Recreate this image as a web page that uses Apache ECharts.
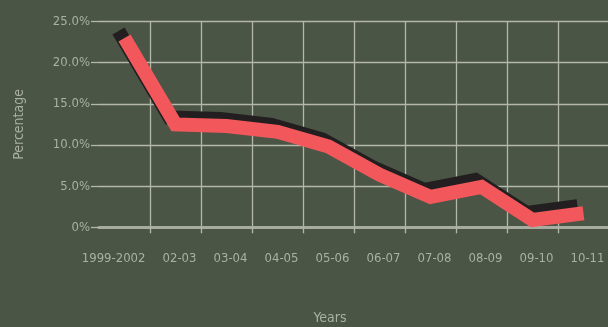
<!DOCTYPE html>
<html>
<head>
<meta charset="utf-8">
<style>
  html, body { margin: 0; padding: 0; background: #4a5545; }
  #chart { width: 608px; height: 327px; }
</style>
<script src="https://cdn.jsdelivr.net/npm/echarts@6/dist/echarts.min.js"></script>
</head>
<body>
<div id="chart"></div>
<script>
// Academic years on the horizontal axis
const years = ['1999-2002', '02-03', '03-04', '04-05', '05-06', '06-07', '07-08', '08-09', '09-10', '10-11'];
// Percentage for each period
const percentages = [23.0, 12.5, 12.3, 11.6, 9.8, 6.4, 3.7, 4.9, 0.9, 1.7];
// Vertical axis tick values and their labels
const yTicks = [0, 5, 10, 15, 20, 25];
const yTickLabels = ['0%', '5.0%', '10.0%', '15.0%', '20.0%', '25.0%'];

const FONT = "'DejaVu Sans Condensed', 'Liberation Sans', sans-serif";
const TEXT = '#aab0a4';
const GRID = '#b3b8ab';

const chart = echarts.init(document.getElementById('chart'), null, { renderer: 'canvas' });

chart.setOption({
  backgroundColor: '#4a5545',
  animation: false,
  grid: {
    left: 99, top: 21.5, width: 510, height: 205.8,
    containLabel: false, outerBoundsMode: 'none'
  },
  xAxis: {
    type: 'category',
    data: years,
    boundaryGap: true,
    name: 'Years',
    nameLocation: 'middle',
    nameGap: 84,
    nameTextStyle: { color: TEXT, fontFamily: FONT, fontSize: 14, padding: [0, 48, 0, 0] },
    axisLine: { show: true, lineStyle: { color: '#a7aba0', width: 3 } },
    axisTick: { show: true, length: 6, interval: (i) => i > 0, lineStyle: { color: GRID, width: 1.3 } },
    axisLabel: {
      interval: 0,
      color: TEXT, fontFamily: FONT, fontSize: 13, margin: 25,
      align: 'right', padding: [0, -21, 0, 0]
    },
    splitLine: { show: true, interval: 0, showMinLine: false, showMaxLine: false, lineStyle: { color: GRID, width: 1.3 } }
  },
  yAxis: {
    type: 'value',
    min: yTicks[0],
    max: yTicks[yTicks.length - 1],
    interval: yTicks[1] - yTicks[0],
    name: 'Percentage',
    nameLocation: 'middle',
    nameGap: 73,
    nameTextStyle: { color: TEXT, fontFamily: FONT, fontSize: 14 },
    axisLine: { show: false },
    axisTick: { show: true, inside: false, length: 8, lineStyle: { color: GRID, width: 1.3 } },
    axisLabel: {
      color: TEXT, fontFamily: FONT, fontSize: 13, margin: 9,
      formatter: (v) => yTickLabels[yTicks.indexOf(v)]
    },
    splitLine: { show: true, lineStyle: { color: GRID, width: 1.3 } }
  },
  series: [{
    type: 'line',
    data: percentages,
    showSymbol: false,
    symbol: 'none',
    lineStyle: {
      color: '#f2585b',
      width: 14,
      cap: 'butt',
      join: 'miter',
      shadowColor: '#231f20',
      shadowBlur: 0,
      shadowOffsetX: -6,
      shadowOffsetY: -7
    }
  }]
});
</script>
</body>
</html>
